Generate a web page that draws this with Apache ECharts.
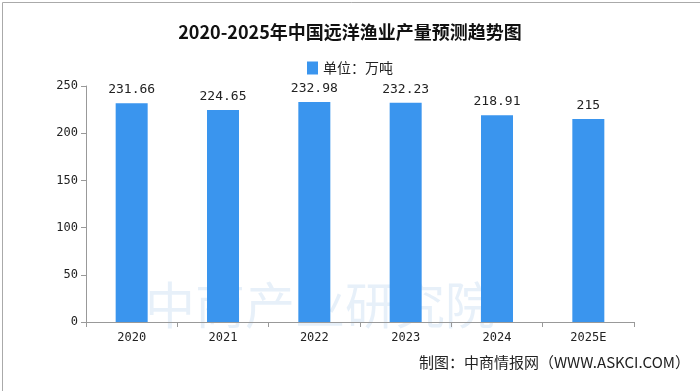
<!DOCTYPE html>
<html><head><meta charset="utf-8">
<script src="https://cdn.jsdelivr.net/npm/echarts@6/dist/echarts.min.js"></script>
<style>html,body{margin:0;padding:0;background:#fff}#c{width:700px;height:391px}</style>
</head><body><div id="c"></div>
<script>
const categories = ['2020','2021','2022','2023','2024','2025E'];
const values = [231.66, 224.65, 232.98, 232.23, 218.91, 215];
const yTicks = [0, 50, 100, 150, 200, 250];
const seriesName = '单位：万吨';
const chart = echarts.init(document.getElementById('c'));
chart.setOption({
  backgroundColor: '#fff',
  animation: false,
  title: {
    text: '2020-2025年中国远洋渔业产量预测趋势图',
    left: 'center', top: 18,
    textStyle: {fontFamily: 'Noto Sans CJK SC', fontWeight: 'bold', fontSize: 18, color: '#111'}
  },
  legend: {
    data: [{name: seriesName, icon: 'rect'}], top: 56, left: 'center',
    itemWidth: 11, itemHeight: 13, itemGap: 4,
    textStyle: {fontFamily: 'Noto Sans CJK SC', fontSize: 14, color: '#222'}
  },
  grid: {left: 86, right: 66, top: 86, bottom: 69},
  xAxis: {
    type: 'category', data: categories, boundaryGap: true,
    axisLine: {lineStyle: {color: '#999'}},
    axisTick: {show: true, alignWithLabel: false, lineStyle: {color: '#999'}},
    axisLabel: {fontFamily: 'DejaVu Sans Mono', fontSize: 12, color: '#222', margin: 10}
  },
  yAxis: {
    type: 'value', min: yTicks[0], max: yTicks[yTicks.length-1], interval: 50,
    axisLine: {show: true, lineStyle: {color: '#999'}},
    axisTick: {show: true, lineStyle: {color: '#999'}},
    splitLine: {show: false},
    axisLabel: {fontFamily: 'DejaVu Sans Mono', fontSize: 12, color: '#222'}
  },
  graphic: [
    {type: 'text', left: 145, top: 280, z: -1, style: {text: '中商产业研究院', font: '50px "Noto Sans CJK SC"', fill: 'rgba(120,170,220,0.18)'}},
    {type: 'text', right: 10, top: 355, style: {text: '制图：中商情报网（WWW.ASKCI.COM）', font: '15px "Noto Sans CJK SC"', fill: '#222'}},
    {type: 'rect', left: 0, top: 0, shape: {width: 699, height: 390}, style: {fill: 'none', stroke: '#aaa', lineWidth: 1}}
  ],
  series: [{
    name: seriesName, type: 'bar', data: values, barWidth: 32,
    itemStyle: {color: '#3a95ee'},
    label: {show: true, position: 'top', distance: 7, fontFamily: 'DejaVu Sans Mono', fontSize: 13, color: '#222'}
  }]
});
</script></body></html>
